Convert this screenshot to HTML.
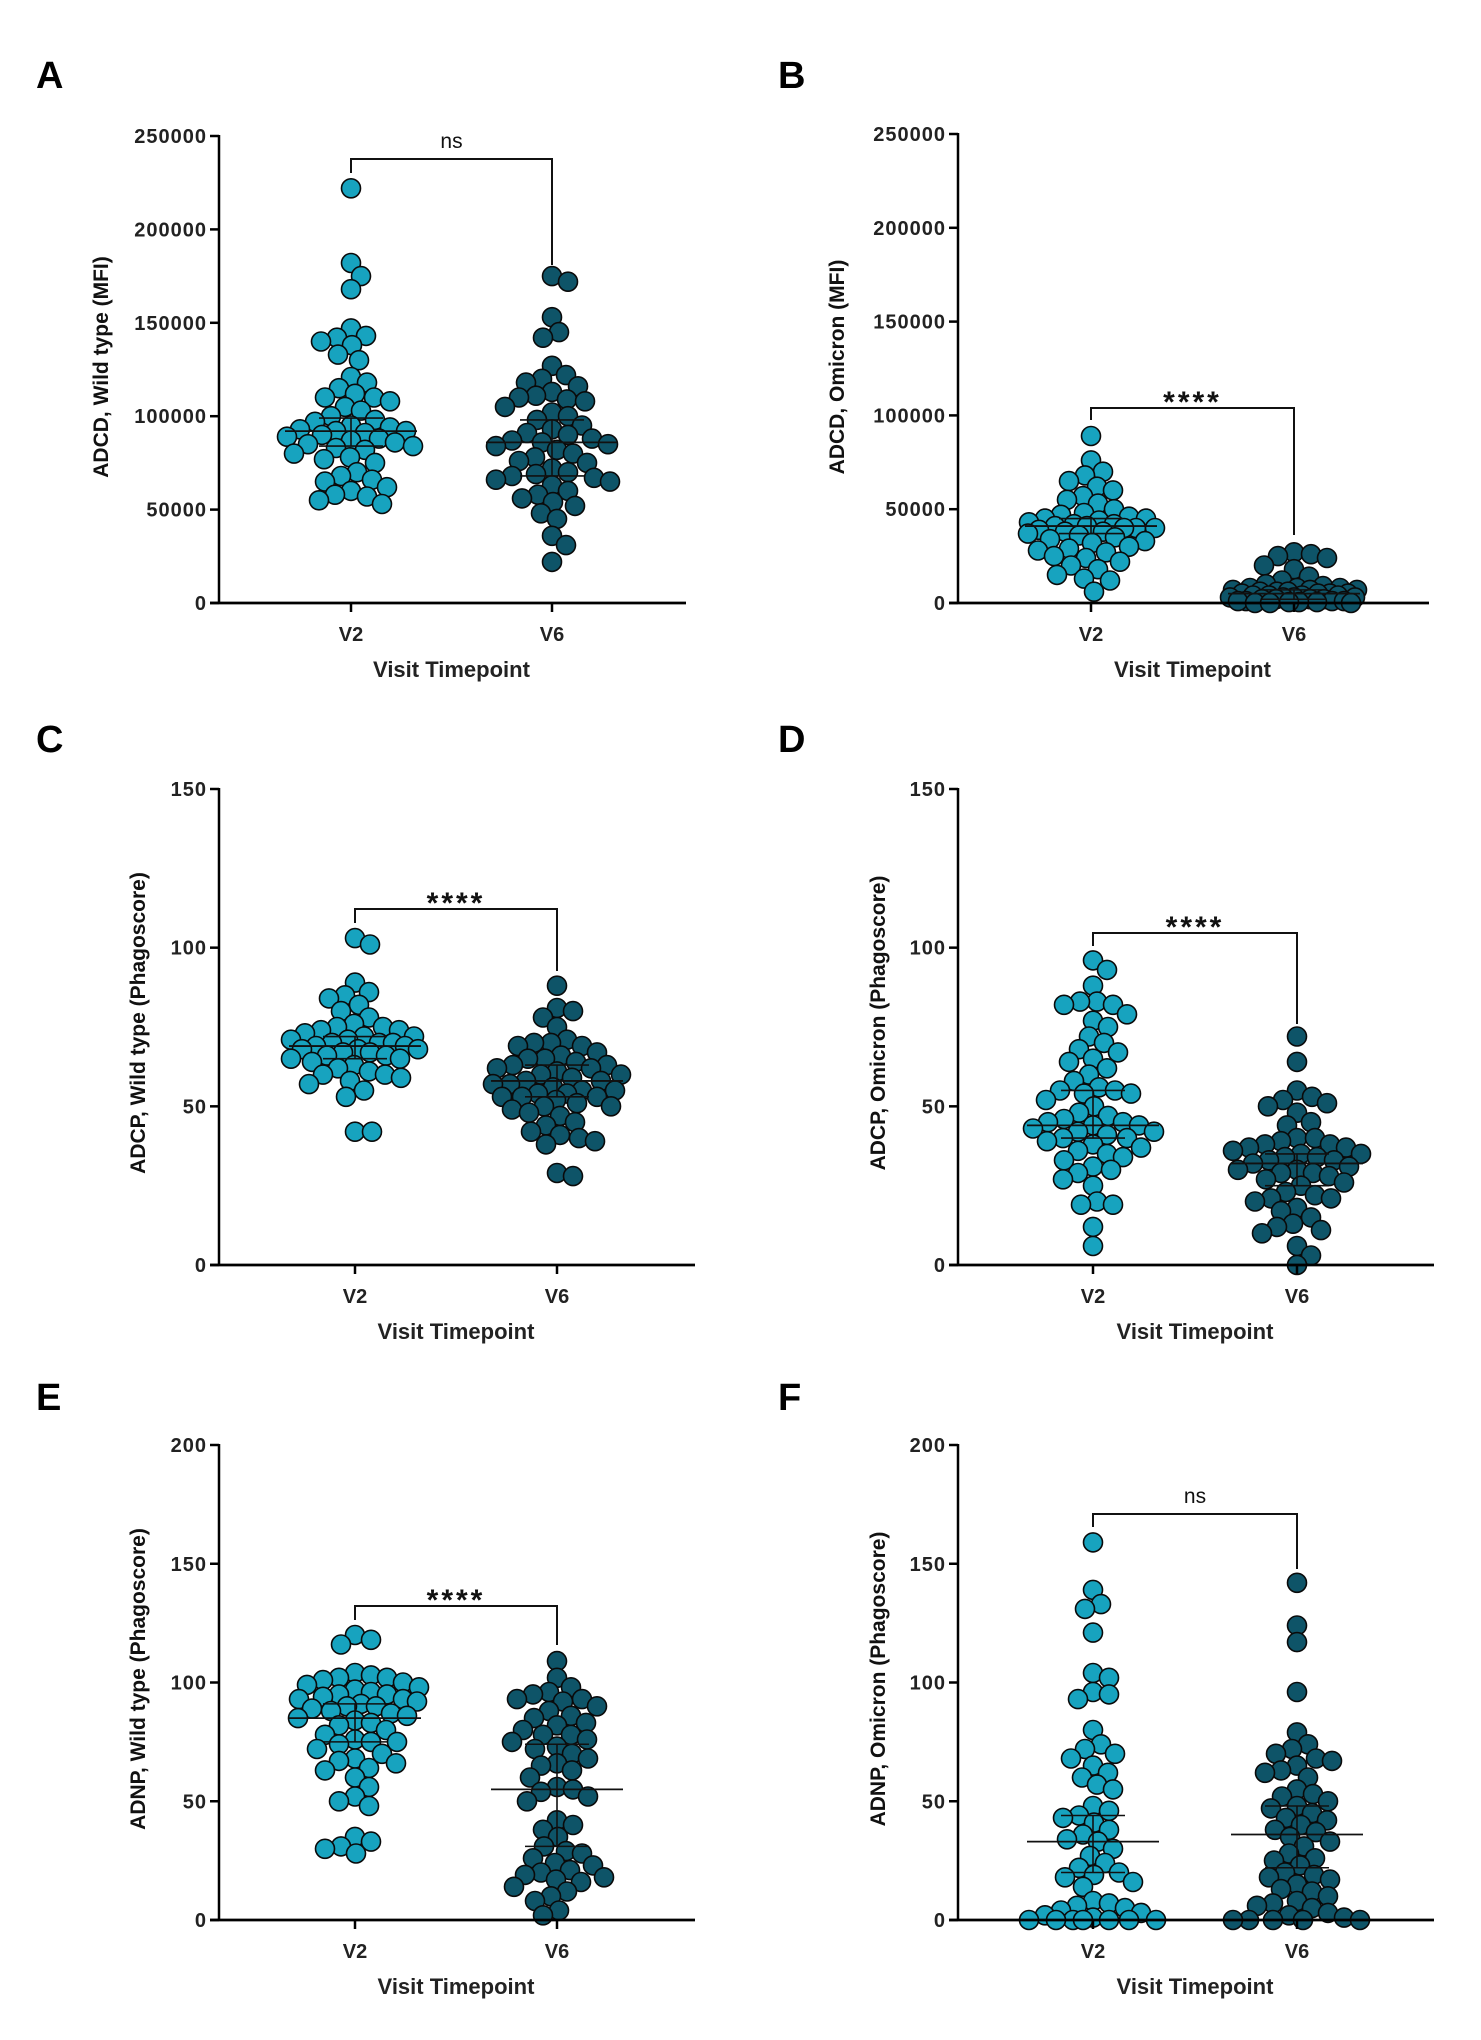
<!DOCTYPE html>
<html><head><meta charset="utf-8">
<style>
html,body{margin:0;padding:0;background:#fff;}
svg{display:block;}
text{font-family:"Liberation Sans",Arial,sans-serif;}
</style></head>
<body>
<svg id="fig" width="1481" height="2040" viewBox="0 0 1481 2040" xmlns="http://www.w3.org/2000/svg"></svg>
<script>
// ---- data ----
const categories = ["V2", "V6"];
const aV2 = [222000,182000,175000,168000,147000,143000,142000,140000,138000,133000,130000,121000,118000,115000,112000,110000,110000,108000,105000,103000,100000,98000,97000,95000,94000,93000,92000,92000,91000,90000,89000,88000,87000,86000,85000,84000,83000,82000,80000,78000,77000,75000,70000,68000,66000,65000,62000,60000,58000,57000,55000,53000];
const aV6 = [175000,172000,153000,145000,142000,127000,122000,120000,118000,116000,113000,111000,110000,109000,108000,105000,102000,100000,98000,95000,93000,91000,90000,88000,87000,86000,85000,84000,82000,80000,78000,76000,75000,72000,70000,69000,68000,67000,66000,65000,63000,60000,58000,56000,54000,52000,48000,45000,36000,31000,22000];
const bV2 = [89000,76000,70000,68000,65000,62000,60000,57000,55000,53000,50000,48000,47000,46000,45000,45000,44000,43000,42000,42000,41000,41000,40000,40000,40000,39000,38000,38000,37000,36000,35000,34000,33000,32000,30000,29000,28000,27000,25000,24000,22000,20000,18000,15000,13000,12000,6000];
const bV6 = [27000,26000,25000,24000,20000,18000,14000,12000,10000,9000,8000,8000,8000,7000,7000,7000,6000,6000,6000,5000,5000,5000,5000,4000,4000,4000,4000,3000,3000,3000,3000,2000,2000,2000,2000,1000,1000,1000,1000,500,500,500,0,0,0];
const cV2 = [103,101,89,86,85,84,82,80,78,76,75,75,74,74,73,72,72,71,71,70,70,70,69,69,68,68,68,67,67,66,66,65,65,64,63,62,61,60,60,59,58,57,55,53,42,42];
const cV6 = [88,81,80,78,75,71,70,70,69,69,67,66,65,65,64,63,63,62,62,61,60,60,59,58,58,57,57,56,55,55,54,54,53,53,53,52,51,50,50,49,48,47,45,44,42,41,40,39,38,29,28];
const dV2 = [96,93,88,83,83,82,82,79,77,75,72,70,68,67,65,64,62,60,58,56,55,55,54,54,52,50,48,47,46,45,45,44,44,43,42,42,41,40,40,39,38,37,36,35,34,33,31,30,29,27,25,20,19,19,12,6];
const dV6 = [72,64,55,53,52,51,50,48,45,44,40,40,39,38,38,37,37,36,35,35,34,34,33,33,32,31,30,30,29,29,28,27,26,25,23,22,21,21,20,18,17,15,13,12,11,10,6,3,0];
const eV2 = [120,118,116,104,103,102,102,101,100,99,98,97,96,95,95,94,93,93,92,91,90,90,89,88,87,86,85,84,83,82,80,78,76,75,75,74,72,70,68,67,66,64,63,60,56,52,50,48,35,33,31,30,28];
const eV6 = [109,102,98,96,95,93,93,92,90,88,86,85,83,82,80,78,78,76,75,73,72,70,68,66,65,63,60,56,55,54,52,50,42,40,38,35,31,29,28,26,24,23,21,20,19,18,17,16,14,12,10,8,4,2];
const fV2 = [159,139,133,131,121,104,102,96,95,93,80,74,72,70,68,65,62,60,57,55,48,46,44,43,41,38,36,34,33,30,27,24,22,20,19,18,16,14,8,7,6,5,4,3,2,1,0,0,0,0,0,0,0];
const fV6 = [142,124,117,96,79,74,72,70,68,67,65,63,62,60,55,53,52,50,48,47,45,43,42,40,38,37,35,33,31,28,26,25,23,20,19,18,17,15,13,12,10,8,7,6,5,3,2,1,0,0,0,0,0];
// medians and quartiles [V2, V6]
const medA = [92000, 86000], q1A = [84000, 68000], q3A = [99000, 98000];
const medB = [41000, 5000], q1B = [37000, 2000], q3B = [45000, 7000];
const medC = [69, 58], q1C = [65, 53], q3C = [72, 63];
const medD = [44, 32], q1D = [40, 25], q3D = [55, 35];
const medE = [85, 55], q1E = [75, 31], q3E = [91, 74];
const medF = [33, 36], q1F = [20, 22], q3F = [44, 48];
const ticksA = [0,50000,100000,150000,200000,250000];
const ticksC = [0,50,100,150];
const ticksE = [0,50,100,150,200];

const NS = "http://www.w3.org/2000/svg";
const svg = document.getElementById('fig');
function mk(tag, attrs, parent){ const e=document.createElementNS(NS,tag); for(const k in attrs) e.setAttribute(k,attrs[k]); (parent||svg).appendChild(e); return e; }

const C2 = "#17a3bf", C6 = "#0e5468";
const R = 9.5;
const CAP = 64;

const panels = [
 {id:'a', letter:'A', lx:36, ly:88, ax:219, top:136, zero:603, xend:686, x2:351, x6:552, ticks:ticksA, max:250000, v:[aV2,aV6], med:medA,q1:q1A,q3:q3A, title:'ADCD, Wild type (MFI)', tx:108, ty:367, br:{y:159, l:173, r:265, t:'ns', ty:148, star:false}},
 {id:'b', letter:'B', lx:778, ly:88, ax:958, top:134, zero:603, xend:1429, x2:1091, x6:1294, ticks:ticksA, max:250000, v:[bV2,bV6], med:medB,q1:q1B,q3:q3B, title:'ADCD, Omicron (MFI)', tx:844, ty:367, br:{y:408, l:420, r:535, t:'****', ty:400, star:true}},
 {id:'c', letter:'C', lx:36, ly:752, ax:219, top:789, zero:1265, xend:695, x2:355, x6:557, ticks:ticksC, max:150, v:[cV2,cV6], med:medC,q1:q1C,q3:q3C, title:'ADCP, Wild type (Phagoscore)', tx:145, ty:1023, br:{y:909, l:923, r:971, t:'****', ty:901, star:true}},
 {id:'d', letter:'D', lx:778, ly:752, ax:958, top:789, zero:1265, xend:1434, x2:1093, x6:1297, ticks:ticksC, max:150, v:[dV2,dV6], med:medD,q1:q1D,q3:q3D, title:'ADCP, Omicron (Phagoscore)', tx:885, ty:1023, br:{y:933, l:946, r:1024, t:'****', ty:925, star:true}},
 {id:'e', letter:'E', lx:36, ly:1410, ax:219, top:1445, zero:1920, xend:695, x2:355, x6:557, ticks:ticksE, max:200, v:[eV2,eV6], med:medE,q1:q1E,q3:q3E, title:'ADNP, Wild type (Phagoscore)', tx:145, ty:1679, br:{y:1606, l:1620, r:1645, t:'****', ty:1598, star:true}},
 {id:'f', letter:'F', lx:778, ly:1410, ax:958, top:1445, zero:1920, xend:1434, x2:1093, x6:1297, ticks:ticksE, max:200, v:[fV2,fV6], med:medF,q1:q1F,q3:q3F, title:'ADNP, Omicron (Phagoscore)', tx:885, ty:1679, br:{y:1514, l:1527, r:1569, t:'ns', ty:1503, star:false}}
];

function swarm(ys, cx){
  const placed=[];
  const minD = 2*R*0.85;
  ys.forEach(y=>{
    let best=null, bestX=cx, bestDist=-1;
    for(let s=0;s<=CAP && best===null;s++){
      for(const sg of (s===0?[1]:[1,-1])){
        const x=cx+sg*s;
        let md=1e9;
        for(const p of placed){ const dx=p[0]-x, dy=p[1]-y; const d=Math.sqrt(dx*dx+dy*dy); if(d<md) md=d; }
        if(md>=minD){best=x;break;}
        if(md>bestDist+0.5){bestDist=md;bestX=x;}
      }
    }
    if(best===null) best=bestX;
    placed.push([best,y]);
  });
  return placed;
}

panels.forEach(P=>{
  const g = mk('g',{});
  
  
  const yS = v => P.zero - (v/P.max)*(P.zero-P.top);
  const lt = mk('text',{x:P.lx,y:P.ly,'font-size':38,'font-weight':'bold',fill:'#000'},g);
  lt.textContent=P.letter;
  
  
  const ya = mk('line',{x1:P.ax,y1:P.top-1,x2:P.ax,y2:P.zero+1,stroke:'#000','stroke-width':2.5},g);
  
  
  P.ticks.forEach(t=>{
    const y=yS(t);
    mk('line',{x1:P.ax-9,y1:y,x2:P.ax,y2:y,stroke:'#000','stroke-width':2.5},g);
    const tl = mk('text',{x:P.ax-12,y:y+7,'font-size':20,'font-weight':'bold','text-anchor':'end',fill:'#222','letter-spacing':1},g);
    tl.textContent=String(t);
    
    
  });
  const tt = mk('text',{x:P.tx,y:P.ty,'font-size':21,'font-weight':'bold','text-anchor':'middle',fill:'#111',transform:`rotate(-90 ${P.tx} ${P.ty})`},g);
  tt.textContent=P.title;
  
  
  const xs=[P.x2,P.x6]; const cols=[C2,C6];
  [0,1].forEach(k=>{
    const pts = swarm(P.v[k].map(yS), xs[k]);
    pts.forEach(p=>{
      const c = mk('circle',{cx:p[0].toFixed(1),cy:p[1].toFixed(1),r:R,fill:cols[k],stroke:'#0a0a0a','stroke-width':1.6},g);
      
      
    });
  });
  const xa = mk('line',{x1:P.ax-9,y1:P.zero,x2:P.xend,y2:P.zero,stroke:'#000','stroke-width':2.8},g);
  
  
  [0,1].forEach(k=>{
    const m=yS(P.med[k]), a=yS(P.q1[k]), b=yS(P.q3[k]);
    const ml = mk('line',{x1:xs[k]-66,y1:m,x2:xs[k]+66,y2:m,stroke:'#111','stroke-width':1.8},g);
    
    
    mk('line',{x1:xs[k]-32,y1:a,x2:xs[k]+32,y2:a,stroke:'#111','stroke-width':1.6},g);
    mk('line',{x1:xs[k]-32,y1:b,x2:xs[k]+32,y2:b,stroke:'#111','stroke-width':1.6},g);
    mk('line',{x1:xs[k],y1:a,x2:xs[k],y2:b,stroke:'#111','stroke-width':1.6},g);
    mk('line',{x1:xs[k],y1:P.zero,x2:xs[k],y2:P.zero+9,stroke:'#000','stroke-width':2.5},g);
    const xl = mk('text',{x:xs[k],y:P.zero+38,'font-size':20,'font-weight':'bold','text-anchor':'middle',fill:'#222'},g);
    xl.textContent=categories[k];
    
    
  });
  const xt = mk('text',{x:(P.x2+P.x6)/2,y:P.zero+74,'font-size':22,'font-weight':'bold','text-anchor':'middle',fill:'#222'},g);
  xt.textContent='Visit Timepoint';
  
  
  const B=P.br;
  const br = mk('polyline',{points:`${P.x2},${B.l} ${P.x2},${B.y} ${P.x6},${B.y} ${P.x6},${B.r}`,fill:'none',stroke:'#111','stroke-width':2},g);
  
  
  const st = mk('text',{x:(P.x2+P.x6)/2,y:B.star?B.ty+12:B.ty,'font-size':B.star?30:21,'font-weight':B.star?'bold':'normal','text-anchor':'middle',fill:'#111','letter-spacing':B.star?3:0},g);
  st.textContent=B.t;
  
  
});
</script>
</body></html>
